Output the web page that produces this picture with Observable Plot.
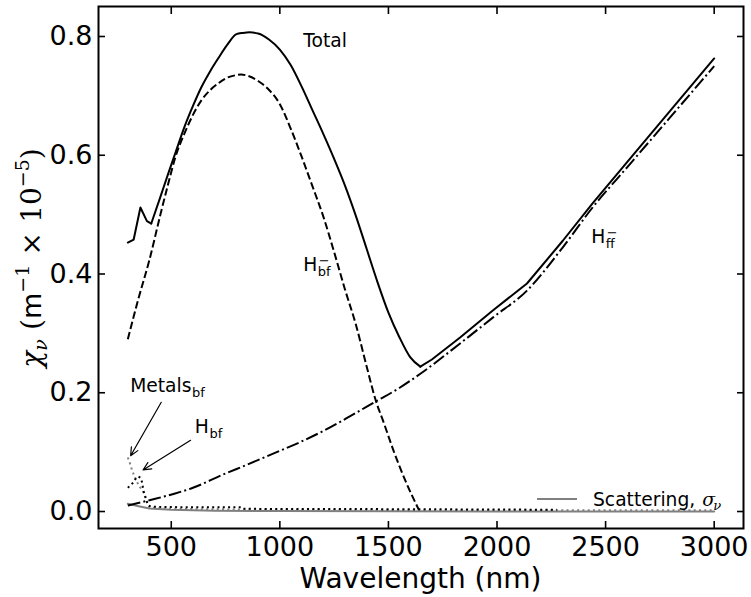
<!DOCTYPE html>
<html><head><meta charset="utf-8">
<script src="https://cdn.jsdelivr.net/npm/d3@7"></script>
<script src="https://cdn.jsdelivr.net/npm/@observablehq/plot@0.6"></script>
<style>body{margin:0;background:#fff} svg{display:block}</style>
</head><body><div id="chart"></div>
<script>
// ---- data ----
const xTicks = [500, 1000, 1500, 2000, 2500, 3000];
const yTicks = [0.0, 0.2, 0.4, 0.6, 0.8];

const totalWl  = [300,327,358,388,408,450,486,520,560,600,638,680,716,760,800,830,860,900,950,1000,1050,1100,1150,1200,1250,1300,1350,1400,1450,1500,1550,1600,1647,1700,1830,1982,2138,2303,2440,2600,2800,3000];
const totalVal = [0.453,0.458,0.512,0.489,0.485,0.53,0.569,0.605,0.647,0.683,0.714,0.742,0.763,0.787,0.804,0.806,0.807,0.805,0.795,0.778,0.752,0.716,0.676,0.636,0.594,0.549,0.498,0.442,0.386,0.335,0.294,0.260,0.244,0.256,0.293,0.339,0.384,0.456,0.519,0.589,0.676,0.763];

const hbfMinusWl  = [300,350,399,450,486,520,560,600,638,680,716,760,800,821,850,900,945,1000,1050,1100,1150,1200,1250,1300,1350,1400,1440,1480,1523,1578,1640];
const hbfMinusVal = [0.29,0.36,0.423,0.50,0.552,0.598,0.636,0.668,0.692,0.710,0.721,0.731,0.735,0.736,0.734,0.725,0.712,0.686,0.645,0.598,0.548,0.497,0.437,0.374,0.315,0.244,0.189,0.148,0.103,0.052,0.003];

const hffMinusWl  = [300,400,514,600,743,850,972,1100,1202,1326,1440,1550,1647,1830,1982,2138,2303,2440,2600,2800,3000];
const hffMinusVal = [0.010,0.019,0.030,0.040,0.063,0.079,0.098,0.118,0.136,0.161,0.185,0.208,0.232,0.283,0.327,0.372,0.445,0.512,0.580,0.665,0.750];

const hbfWl  = [300,326,339,349,358,365,372,385,394,410,600,820,830,1500,2275];
const hbfVal = [0.040,0.049,0.057,0.059,0.057,0.050,0.035,0.019,0.010,0.008,0.007,0.0072,0.0045,0.004,0.003];

const metalsWl  = [300,310,320,330,345,358,376,390,400,450,600,1000,2000,3000];
const metalsVal = [0.091,0.081,0.069,0.060,0.048,0.040,0.030,0.015,0.007,0.005,0.004,0.003,0.002,0.002];

const scatterWl  = [300,350,400,500,700,1000,1500,2000,3000];
const scatterVal = [0.013,0.009,0.005,0.003,0.0015,0.0007,0.0003,0.0002,0.0001];

// annotations (data coordinates)
const annoMain = ["Total", "H", "H", "Metals", "H"];
const annoSub  = ["", "bf", "ff", "bf", "bf"];
const annoSup  = ["", "\u2212", "\u2212", "", ""];
const annoX    = [1110, 1110, 2436, 313, 611];
const annoY    = [0.781, 0.404, 0.451, 0.200, 0.131];

const arrowX1 = [454, 589];
const arrowY1 = [0.184, 0.120];
const arrowX2 = [313, 370];
const arrowY2 = [0.094, 0.070];

const xLabel = "Wavelength (nm)";
const legendLabel = "Scattering,";

// ---- build ----
const rows = (wl, v) => wl.map((w, i) => ({x: w, y: v[i]}));
const arrows = arrowX1.map((d, i) => ({x1: d, y1: arrowY1[i], x2: arrowX2[i], y2: arrowY2[i]}));
const totalRows = rows(totalWl, totalVal);
const iSpikeEnd = totalWl.indexOf(408), iMin = totalWl.indexOf(1647);

const gray = "#808080";
const chart = Plot.plot({
  width: 751, height: 597,
  marginLeft: 98, marginRight: 8, marginTop: 6, marginBottom: 69,
  style: {fontFamily: "'DejaVu Sans', sans-serif", fontSize: "27px", color: "black", background: "white"},
  x: {domain: [165, 3135], label: null},
  y: {domain: [-0.0286, 0.8505], label: null},
  marks: [
    Plot.line(rows(scatterWl, scatterVal), {x: "x", y: "y", stroke: gray, strokeWidth: 2}),
    Plot.line(rows(metalsWl, metalsVal), {x: "x", y: "y", stroke: gray, strokeWidth: 2, strokeDasharray: "2,3.3", strokeLinecap: "butt"}),
    Plot.line(rows(hbfWl, hbfVal), {x: "x", y: "y", stroke: "black", strokeWidth: 2, strokeDasharray: "2,3.3", strokeLinecap: "butt"}),
    Plot.line(rows(hffMinusWl, hffMinusVal), {x: "x", y: "y", stroke: "black", strokeWidth: 2, strokeDasharray: "12.8,3.2,2,3.2", strokeLinecap: "butt", curve: "monotone-x"}),
    Plot.line(rows(hbfMinusWl, hbfMinusVal), {x: "x", y: "y", stroke: "black", strokeWidth: 2, strokeDasharray: "7.4,3.2", strokeLinecap: "butt", curve: "monotone-x"}),
    Plot.line(totalRows.slice(0, iSpikeEnd + 1), {x: "x", y: "y", stroke: "black", strokeWidth: 2}),
    Plot.line(totalRows.slice(iSpikeEnd, iMin + 1), {x: "x", y: "y", stroke: "black", strokeWidth: 2, curve: "monotone-x"}),
    Plot.line(totalRows.slice(iMin), {x: "x", y: "y", stroke: "black", strokeWidth: 2}),
    Plot.arrow(arrows, {x1: "x1", y1: "y1", x2: "x2", y2: "y2", stroke: "black", strokeWidth: 1.2, headLength: 11, headAngle: 50}),
    Plot.axisX(xTicks, {anchor: "bottom", tickSize: -7, tickPadding: 15, strokeWidth: 1.6, tickFormat: d3.format("d"), label: null}),
    Plot.axisX(xTicks, {anchor: "top", tickSize: -7, strokeWidth: 1.6, tickFormat: () => "", label: null}),
    Plot.axisY(yTicks, {anchor: "left", tickSize: -7, tickPadding: 13, strokeWidth: 1.6, tickFormat: d3.format(".1f"), label: null}),
    Plot.axisY(yTicks, {anchor: "right", tickSize: -7, strokeWidth: 1.6, tickFormat: () => "", label: null}),
    Plot.frame({stroke: "black", strokeWidth: 2})
  ]
});
document.getElementById("chart").append(chart);

const sx = chart.scale("x").apply, sy = chart.scale("y").apply;
const svg = d3.select(chart);
const g = svg.append("g").attr("font-family", "'DejaVu Sans', sans-serif").attr("fill", "black").attr("text-anchor", "start");

const fs = 18.7, fsSmall = 13;
annoMain.forEach((m, i) => {
  const x = sx(annoX[i]), y = sy(annoY[i]);
  const t = g.append("text").attr("x", x).attr("y", y).attr("font-size", fs).text(m);
  const w = t.node().getComputedTextLength();
  if (annoSub[i]) g.append("text").attr("x", x + w + 0.5).attr("y", y + 4.5).attr("font-size", fsSmall).text(annoSub[i]);
  if (annoSup[i]) g.append("text").attr("x", x + w + 1.5).attr("y", y - 6).attr("font-size", fsSmall).text(annoSup[i]);
});

// legend
const lg = svg.append("g").attr("text-anchor", "start");
lg.append("line").attr("x1", 537).attr("x2", 577).attr("y1", 499).attr("y2", 499).attr("stroke", gray).attr("stroke-width", 2.2);
const lt = lg.append("text").attr("x", 593).attr("y", 506).attr("font-size", fs).attr("font-family", "'DejaVu Sans', sans-serif").text(legendLabel);
const lw = lt.node().getComputedTextLength();
lg.append("text").attr("x", 593 + lw + 7).attr("y", 506).attr("font-size", fs).attr("font-family", "'DejaVu Serif', serif").attr("font-style", "italic").text("\u03c3");
lg.append("text").attr("x", 593 + lw + 18).attr("y", 510).attr("font-size", fsSmall).attr("font-family", "'DejaVu Serif', serif").attr("font-style", "italic").text("\u03bd");

// x-axis label
svg.append("text").attr("x", (98 + 743) / 2).attr("y", 588).attr("text-anchor", "middle")
  .attr("font-size", 28).attr("font-family", "'DejaVu Sans', sans-serif").text(xLabel);

// y-axis label (math style)
const yl = svg.append("text").attr("transform", "translate(41,258) rotate(-90)").attr("text-anchor", "middle")
  .attr("font-size", 28).attr("font-family", "'DejaVu Serif', serif");
yl.append("tspan").attr("font-style", "italic").text("\u03c7");
yl.append("tspan").attr("font-style", "italic").attr("font-size", 19).attr("dy", 6).text("\u03bd");
yl.append("tspan").attr("dy", -6).text("\u2004(");
yl.append("tspan").attr("font-family", "'DejaVu Sans', sans-serif").attr("font-size", 27).text("m");
yl.append("tspan").attr("font-size", 19).attr("dy", -12).text("\u22121");
yl.append("tspan").attr("dy", 12).text("\u2004\u00d7\u200410");
yl.append("tspan").attr("font-size", 19).attr("dy", -12).text("\u22125");
yl.append("tspan").attr("dy", 12).text(")");
</script>
</body></html>
